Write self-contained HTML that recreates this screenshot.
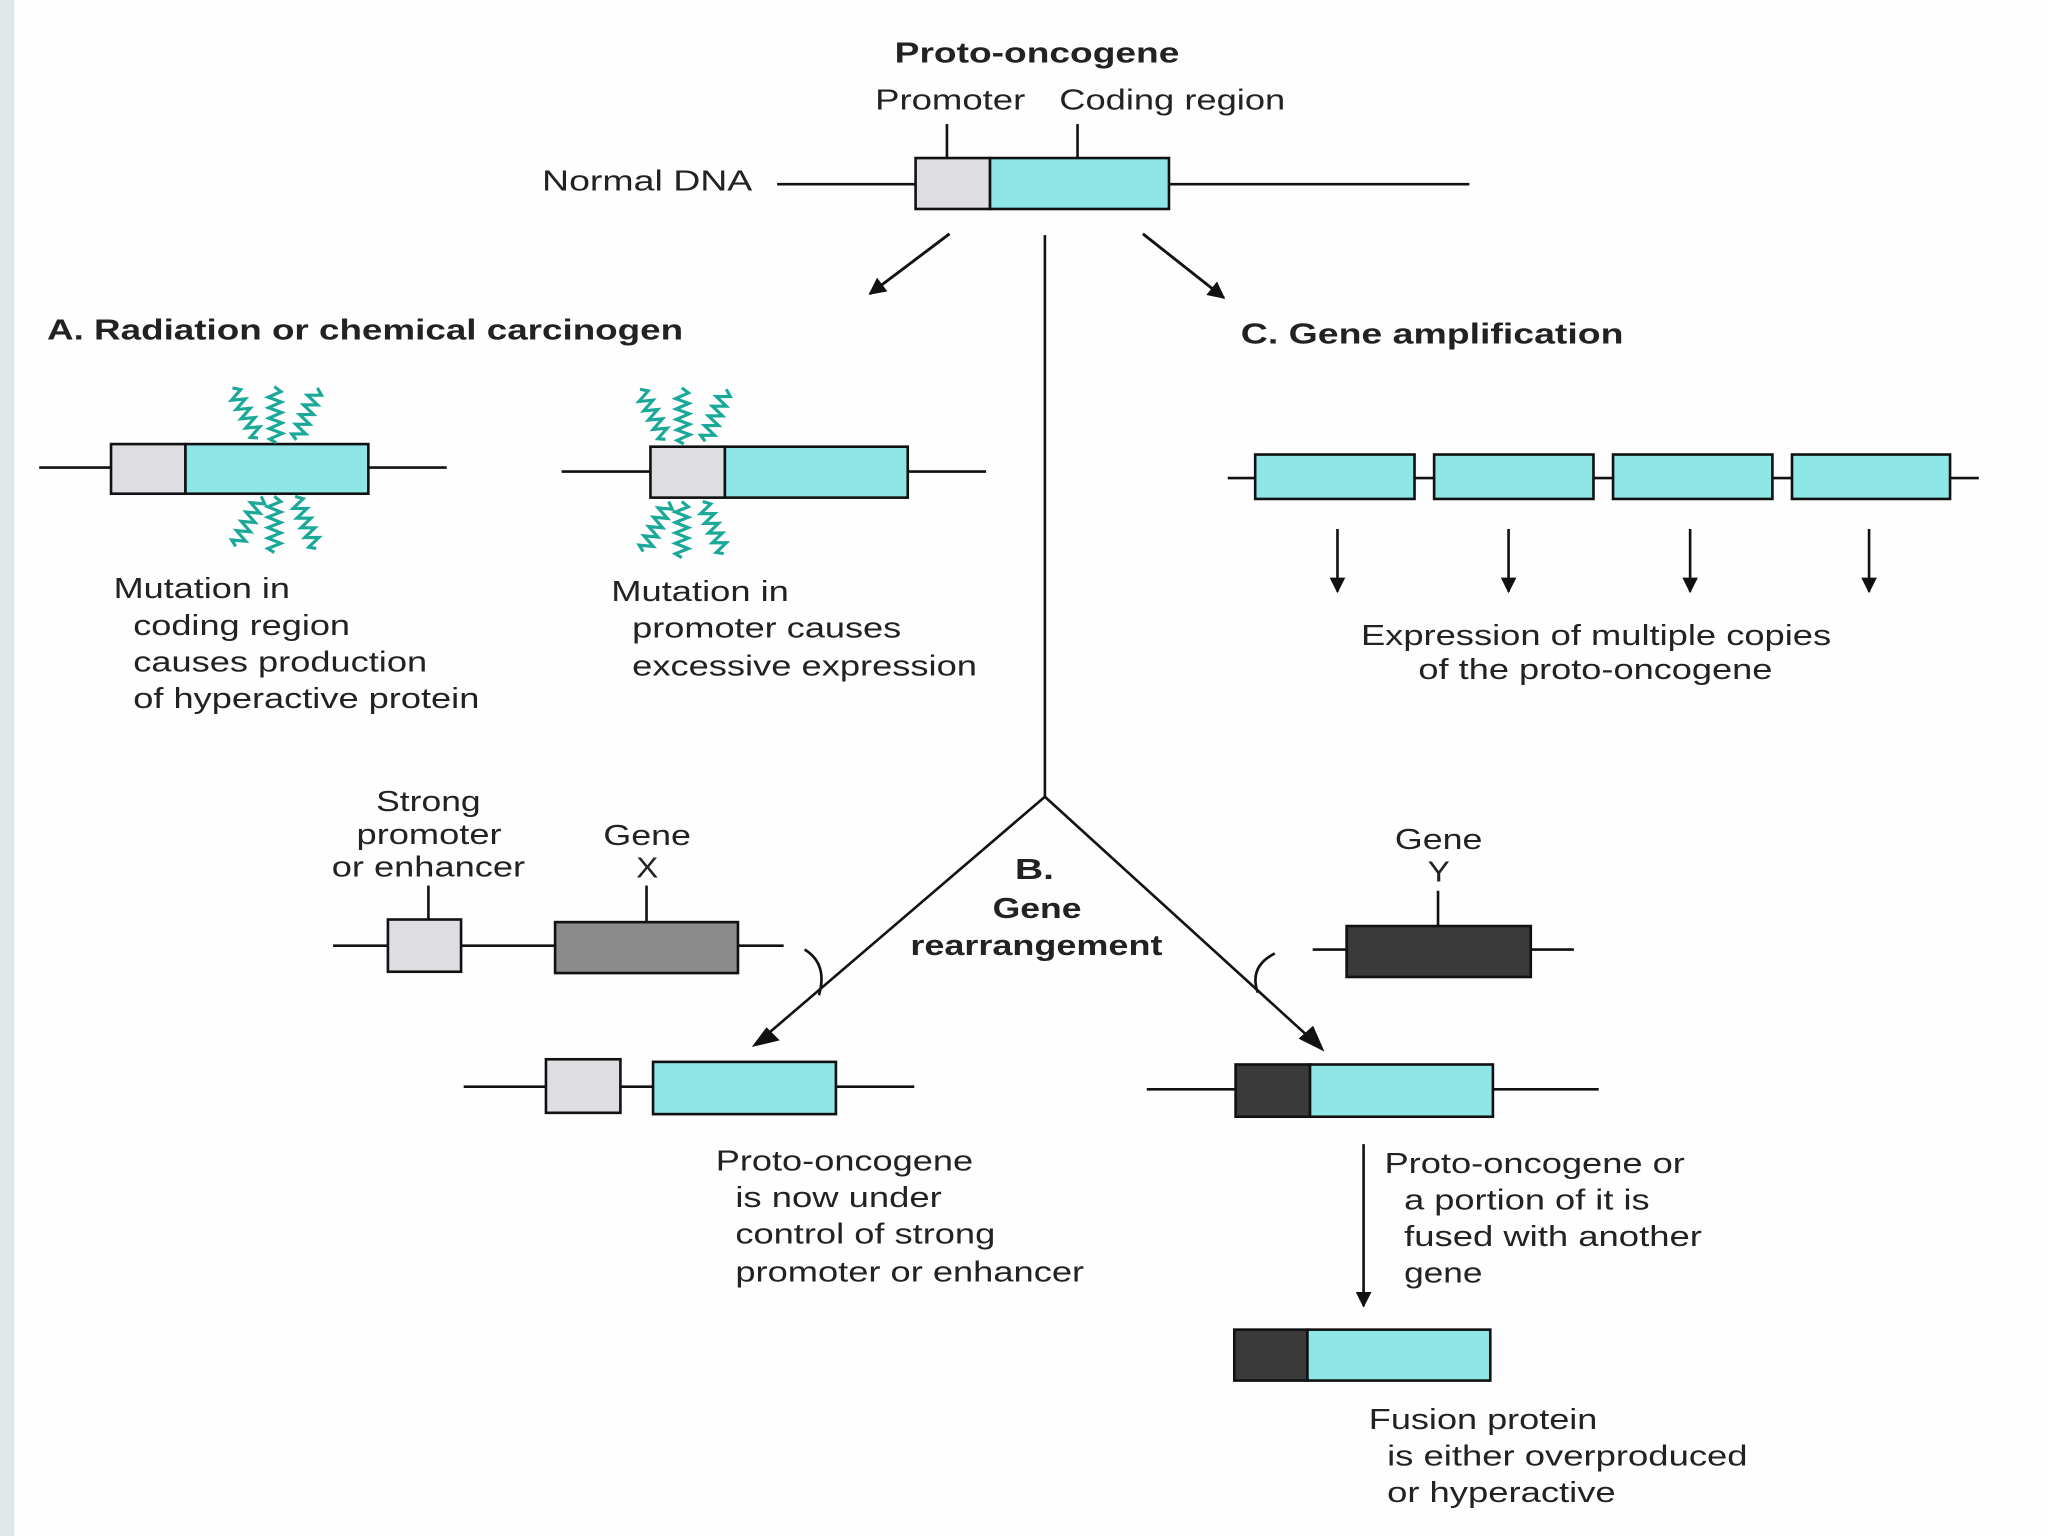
<!DOCTYPE html>
<html><head><meta charset="utf-8"><style>
html,body{margin:0;padding:0;background:#fff;}
svg{display:block;}
text{font-family:"Liberation Sans",Arial,sans-serif;fill:#222;}
.b{font-weight:bold;}
</style></head><body>
<svg width="2048" height="1536" viewBox="0 0 1568 1176" xmlns="http://www.w3.org/2000/svg">
<defs>
<path id="zz" d="M0,0 l5,4 l-10,4 l10,4 l-10,4 l10,4 l-10,4 l10,4 l-10,4 l10,4 l-10,4 l5,3" fill="none" stroke="#1aa898" stroke-width="2.4"/>
<marker id="ah" viewBox="0 0 10 10" refX="9" refY="5" markerWidth="6" markerHeight="6" orient="auto"><path d="M0,0 L10,5 L0,10 z" fill="#111"/></marker>
</defs>
<rect x="0" y="0" width="1568" height="1176" fill="#fefefe"/>
<rect x="0" y="0" width="11" height="1176" fill="#dfe7eb"/>
<g stroke="#111" stroke-width="2" fill="none">
<line x1="595" y1="141" x2="1125" y2="141"/>
<line x1="725" y1="95" x2="725" y2="121"/>
<line x1="825" y1="95" x2="825" y2="121"/>
<rect x="701" y="121" width="57" height="39" fill="#dedde2"/>
<rect x="758" y="121" width="137" height="39" fill="#8ee6e6"/>
<line x1="727" y1="179" x2="666" y2="225" marker-end="url(#ah)" stroke-width="2.2"/>
<line x1="875" y1="179" x2="937" y2="228" marker-end="url(#ah)" stroke-width="2.2"/>
<polyline points="578,800 800,610 800,180"/>
<line x1="800" y1="610" x2="1012" y2="803"/>
<path d="M578,800 l17,-4 l-8,-8 z M1012,803 l-7,-16 l-9,8 z" fill="#111"/>
<line x1="30" y1="358" x2="342" y2="358"/>
<rect x="85" y="340" width="57" height="38" fill="#dedde2"/>
<rect x="142" y="340" width="140" height="38" fill="#8ee6e6"/>
<line x1="430" y1="361" x2="755" y2="361"/>
<rect x="498" y="342" width="57" height="39" fill="#dedde2"/>
<rect x="555" y="342" width="140" height="39" fill="#8ee6e6"/>
<line x1="940" y1="366" x2="1515" y2="366"/>
<rect x="961" y="348" width="122" height="34" fill="#8ee6e6"/>
<rect x="1098" y="348" width="122" height="34" fill="#8ee6e6"/>
<rect x="1235" y="348" width="122" height="34" fill="#8ee6e6"/>
<rect x="1372" y="348" width="121" height="34" fill="#8ee6e6"/>
<line x1="1024" y1="405" x2="1024" y2="453" marker-end="url(#ah)"/>
<line x1="1155" y1="405" x2="1155" y2="453" marker-end="url(#ah)"/>
<line x1="1294" y1="405" x2="1294" y2="453" marker-end="url(#ah)"/>
<line x1="1431" y1="405" x2="1431" y2="453" marker-end="url(#ah)"/>
<line x1="328" y1="678" x2="328" y2="704"/>
<line x1="495" y1="678" x2="495" y2="706"/>
<line x1="255" y1="724" x2="600" y2="724"/>
<rect x="297" y="704" width="56" height="40" fill="#dedde2"/>
<rect x="425" y="706" width="140" height="39" fill="#8b8b8b"/>
<path d="M616,727 Q634,738 627,762"/>
<line x1="355" y1="832" x2="700" y2="832"/>
<rect x="418" y="811" width="57" height="41" fill="#dedde2"/>
<rect x="500" y="813" width="140" height="40" fill="#8ee6e6"/>
<line x1="1101" y1="682" x2="1101" y2="709"/>
<line x1="1005" y1="727" x2="1205" y2="727"/>
<rect x="1031" y="709" width="141" height="39" fill="#3a3a3a"/>
<path d="M976,730 Q956,740 963,760"/>
<line x1="878" y1="834" x2="1224" y2="834"/>
<rect x="946" y="815" width="57" height="40" fill="#3a3a3a"/>
<rect x="1003" y="815" width="140" height="40" fill="#8ee6e6"/>
<line x1="1044" y1="876" x2="1044" y2="1000" marker-end="url(#ah)"/>
<rect x="945" y="1018" width="56" height="39" fill="#3a3a3a"/>
<rect x="1001" y="1018" width="140" height="39" fill="#8ee6e6"/>
</g>
<use href="#zz" transform="translate(178,297) rotate(-27)"/>
<use href="#zz" transform="translate(210,296) rotate(-2)"/>
<use href="#zz" transform="translate(243,297) rotate(22)"/>
<use href="#zz" transform="translate(200,380) rotate(27)"/>
<use href="#zz" transform="translate(210,380) rotate(0)"/>
<use href="#zz" transform="translate(226,380) rotate(-22)"/>
<use href="#zz" transform="translate(490,298) rotate(-27)"/>
<use href="#zz" transform="translate(522,297) rotate(-2)"/>
<use href="#zz" transform="translate(556,298) rotate(22)"/>
<use href="#zz" transform="translate(512,384) rotate(27)"/>
<use href="#zz" transform="translate(522,384) rotate(0)"/>
<use href="#zz" transform="translate(538,384) rotate(-22)"/>
<g font-size="22" lengthAdjust="spacingAndGlyphs">
<text x="685" y="48" class="b" textLength="218" lengthAdjust="spacingAndGlyphs">Proto-oncogene</text>
<text x="670" y="84" textLength="115" lengthAdjust="spacingAndGlyphs">Promoter</text>
<text x="811" y="84" textLength="173" lengthAdjust="spacingAndGlyphs">Coding region</text>
<text x="415" y="146" textLength="161" lengthAdjust="spacingAndGlyphs">Normal DNA</text>
<text x="36" y="260" class="b" textLength="487" lengthAdjust="spacingAndGlyphs">A.  Radiation or chemical carcinogen</text>
<text x="950" y="263" class="b" textLength="293" lengthAdjust="spacingAndGlyphs">C.  Gene amplification</text>
<text x="87" y="458" textLength="135" lengthAdjust="spacingAndGlyphs">Mutation in</text>
<text x="102" y="486" textLength="166" lengthAdjust="spacingAndGlyphs">coding region</text>
<text x="102" y="514" textLength="225" lengthAdjust="spacingAndGlyphs">causes production</text>
<text x="102" y="542" textLength="265" lengthAdjust="spacingAndGlyphs">of hyperactive protein</text>
<text x="468" y="460" textLength="136" lengthAdjust="spacingAndGlyphs">Mutation in</text>
<text x="484" y="488" textLength="206" lengthAdjust="spacingAndGlyphs">promoter causes</text>
<text x="484" y="517" textLength="264" lengthAdjust="spacingAndGlyphs">excessive expression</text>
<text x="1042" y="494" textLength="360" lengthAdjust="spacingAndGlyphs">Expression of multiple copies</text>
<text x="1086" y="520" textLength="271" lengthAdjust="spacingAndGlyphs">of the proto-oncogene</text>
<text x="288" y="621" textLength="80" lengthAdjust="spacingAndGlyphs">Strong</text>
<text x="273" y="646" textLength="111" lengthAdjust="spacingAndGlyphs">promoter</text>
<text x="254" y="671" textLength="148" lengthAdjust="spacingAndGlyphs">or enhancer</text>
<text x="462" y="647" textLength="67" lengthAdjust="spacingAndGlyphs">Gene</text>
<text x="487" y="672" textLength="17" lengthAdjust="spacingAndGlyphs">X</text>
<text x="777" y="673" class="b" textLength="30" lengthAdjust="spacingAndGlyphs">B.</text>
<text x="760" y="703" class="b" textLength="68" lengthAdjust="spacingAndGlyphs">Gene</text>
<text x="697" y="731" class="b" textLength="193" lengthAdjust="spacingAndGlyphs">rearrangement</text>
<text x="1068" y="650" textLength="67" lengthAdjust="spacingAndGlyphs">Gene</text>
<text x="1093" y="675" textLength="17" lengthAdjust="spacingAndGlyphs">Y</text>
<text x="548" y="896" textLength="197" lengthAdjust="spacingAndGlyphs">Proto-oncogene</text>
<text x="563" y="924" textLength="158" lengthAdjust="spacingAndGlyphs">is now under</text>
<text x="563" y="952" textLength="199" lengthAdjust="spacingAndGlyphs">control of strong</text>
<text x="563" y="981" textLength="267" lengthAdjust="spacingAndGlyphs">promoter or enhancer</text>
<text x="1060" y="898" textLength="230" lengthAdjust="spacingAndGlyphs">Proto-oncogene or</text>
<text x="1075" y="926" textLength="188" lengthAdjust="spacingAndGlyphs">a portion of it is</text>
<text x="1075" y="954" textLength="228" lengthAdjust="spacingAndGlyphs">fused with another</text>
<text x="1075" y="982" textLength="60" lengthAdjust="spacingAndGlyphs">gene</text>
<text x="1048" y="1094" textLength="175" lengthAdjust="spacingAndGlyphs">Fusion protein</text>
<text x="1062" y="1122" textLength="276" lengthAdjust="spacingAndGlyphs">is either overproduced</text>
<text x="1062" y="1150" textLength="175" lengthAdjust="spacingAndGlyphs">or hyperactive</text>
</g>
</svg>
</body></html>
